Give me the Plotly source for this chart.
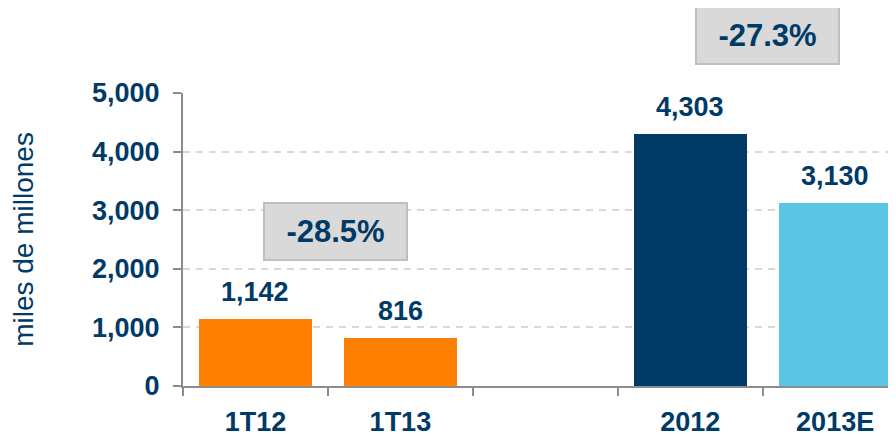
import plotly.graph_objects as go

categories = ["1T12", "1T13", "2012", "2013E"]
positions = [0, 1, 3, 4]
values = [1142, 816, 4303, 3130]
bar_colors = ["#FF7F00", "#FF7F00", "#003A66", "#5BC5E6"]
y_ticks = [0, 1000, 2000, 3000, 4000, 5000]
changes = ["-28.5%", "-27.3%"]
change_x = [0.552, 3.534]          # x (axis units) of each change box
change_y_paper = [0.527, 1.196]    # y (paper units) of each change box

NAVY = "#003A66"
GRAY = "#8C8C8C"
FONT = "Liberation Sans"

fig = go.Figure()
fig.add_trace(go.Bar(
    x=positions, y=values, width=0.78,
    marker=dict(color=bar_colors, line=dict(width=0)),
    hoverinfo="skip",
))

for p, v in zip(positions, values):
    fig.add_annotation(
        x=p, y=v, xref="x", yref="y", text=f"{v:,}", showarrow=False,
        xanchor="center", yanchor="bottom", yshift=10,
        font=dict(family=FONT, size=27, color=NAVY, weight="bold"),
    )

for txt, cx, cy in zip(changes, change_x, change_y_paper):
    fig.add_annotation(
        x=cx, y=cy, xref="x", yref="paper", text=txt, showarrow=False,
        xanchor="center", yanchor="middle",
        width=141, height=55, bgcolor="#D9D9D9", bordercolor="#BFBFBF",
        borderwidth=2, borderpad=0,
        font=dict(family=FONT, size=31, color=NAVY, weight="bold"),
    )

# page has an 8px body margin, so the figure is 8px smaller than the window
fig.update_layout(
    width=888, height=428,
    margin=dict(l=175, r=0, t=85, b=50, autoexpand=False),
    paper_bgcolor="white", plot_bgcolor="white",
    showlegend=False, bargap=0,
    font=dict(family=FONT, color=NAVY),
)
fig.update_xaxes(
    range=[-0.5, 4.42], tickmode="array", tickvals=positions, ticktext=categories,
    ticks="", showline=True, linecolor=GRAY, linewidth=2, showgrid=False,
    zeroline=False, ticklabelstandoff=11, automargin=False,
    tickfont=dict(family=FONT, size=27, color=NAVY, weight="bold"),
    minor=dict(tickmode="array", tickvals=[-0.5, 0.5, 1.5, 2.5, 3.5],
               ticks="outside", ticklen=8, tickwidth=2, tickcolor=GRAY),
)
fig.update_yaxes(
    range=[0, 5000], tickmode="array", tickvals=y_ticks, tickformat=",",
    ticks="outside", ticklen=8, tickwidth=2, tickcolor=GRAY,
    showline=True, linecolor=GRAY, linewidth=2,
    showgrid=True, gridcolor="#D9D9D9", gridwidth=2, griddash="7px,6px",
    zeroline=False, ticklabelstandoff=8, automargin=False,
    tickfont=dict(family=FONT, size=27, color=NAVY, weight="bold"),
    title=dict(text="miles de millones", standoff=50,
               font=dict(family=FONT, size=28, color=NAVY)),
)

fig.write_html("out.html")
